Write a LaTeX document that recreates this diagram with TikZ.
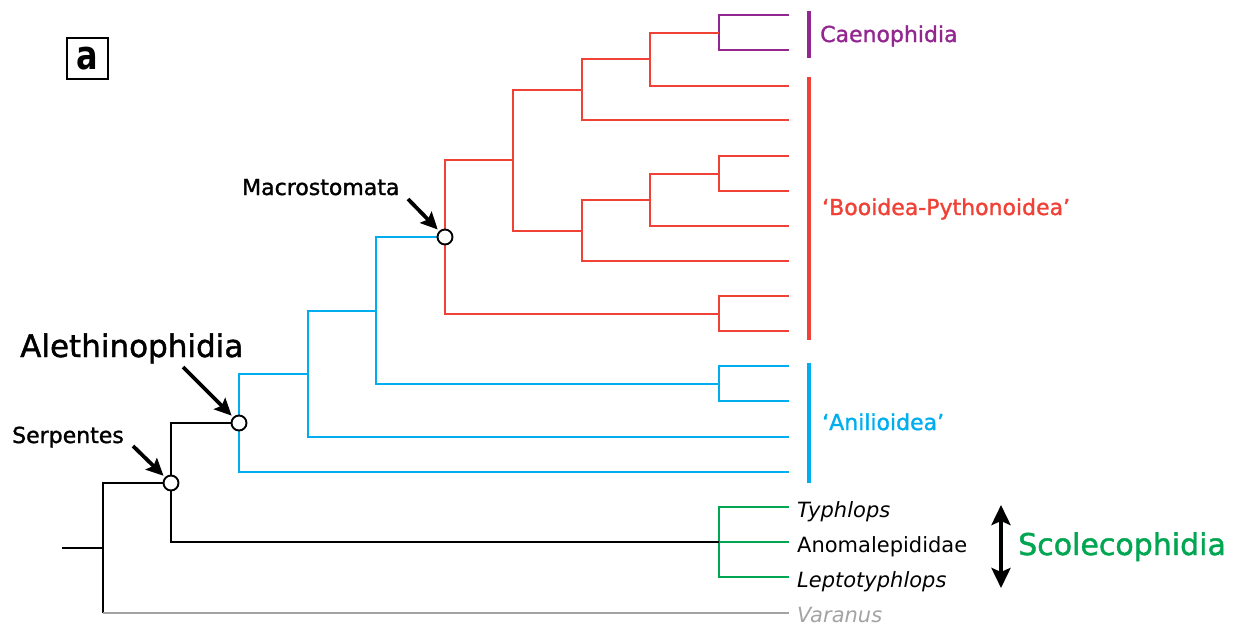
\documentclass[tikz,border=0pt]{standalone}
\usepackage{fontspec}
\setmainfont{DejaVu Sans}
\newfontfamily\semib{DejaVu Sans}[BoldFont={DejaVu Sans}, BoldFeatures={FakeBold=1.4}]
\usetikzlibrary{arrows.meta}
\definecolor{cred}{HTML}{EF4136}
\definecolor{cpurple}{HTML}{92278F}
\definecolor{cblue}{HTML}{00AEEF}
\definecolor{cgreen}{HTML}{00A651}
\definecolor{cgray}{HTML}{A3A3A6}
\begin{document}
\begin{tikzpicture}[x=1pt,y=-1pt,
  tree/.style={line width=1.9pt, line join=miter},
  bar/.style={line width=3.6pt},
  nodecirc/.style={circle, draw=black, fill=white, line width=1.9pt, minimum size=15pt, inner sep=0pt},
  pointer/.style={line width=3.8pt, -{Stealth[length=17pt,width=16pt,inset=3pt]}, shorten >=2pt},
  clade/.style={anchor=base west, inner sep=0pt, font=\semib\bfseries\fontsize{22}{26}\selectfont},
  taxon/.style={anchor=base west, inner sep=0pt, font=\fontsize{21}{25}\selectfont},
  taxonit/.style={taxon, font=\itshape\fontsize{21}{25}\selectfont}]
\useasboundingbox (0,0) rectangle (1243,635);

% tips, top to bottom
\foreach \i/\y in {0/15,1/50,2/86,3/120,4/156,5/191,6/226,7/261,8/296,9/331,
                   10/366,11/401,12/437,13/472,14/507,15/542,16/577,17/613}
  {\coordinate (t\i) at (789,\y);}

% internal nodes
\coordinate (cA)  at (719,33);
\coordinate (n2)  at (650,59);
\coordinate (n3)  at (582,90);
\coordinate (b1)  at (719,174);
\coordinate (b2)  at (650,200);
\coordinate (b3)  at (582,231);
\coordinate (n4)  at (513,160);
\coordinate (b4)  at (719,314);
\coordinate (mac) at (445,237);
\coordinate (an1) at (719,384);
\coordinate (bl1) at (376,311);
\coordinate (bl2) at (308,374);
\coordinate (ale) at (239,423);
\coordinate (sco) at (719,542);
\coordinate (ser) at (171,483);
\coordinate (root) at (103,548);
\coordinate (stub) at (62,548);

% Caenophidia crown
\draw[tree, cpurple] (cA) |- (t0) (cA) |- (t1);
% Booidea-Pythonoidea grade
\draw[tree, cred] (n2) |- (cA) (n2) |- (t2)
  (n3) |- (n2) (n3) |- (t3)
  (b1) |- (t4) (b1) |- (t5)
  (b2) |- (b1) (b2) |- (t6)
  (b3) |- (b2) (b3) |- (t7)
  (n4) |- (n3) (n4) |- (b3)
  (b4) |- (t8) (b4) |- (t9)
  (mac) |- (n4) (mac) |- (b4);
% Anilioidea grade
\draw[tree, cblue] (an1) |- (t10) (an1) |- (t11)
  (bl1) |- (mac) (bl1) |- (an1)
  (bl2) |- (bl1) (bl2) |- (t12)
  (ale) |- (bl2) (ale) |- (t13);
% Scolecophidia
\draw[tree, cgreen] (sco) |- (t14) (sco) -- (t15) (sco) |- (t16);
% basal branches
\draw[tree, black] (ser) |- (ale) (ser) |- (sco)
  (root) |- (ser) (root) -- (root |- t17) (stub) -- (root);
\draw[tree, cgray] (root |- t17) -- (t17);

% node circles
\node[nodecirc] (macC) at (mac) {};
\node[nodecirc] (aleC) at (ale) {};
\node[nodecirc] (serC) at (ser) {};

% clade bars
\coordinate (cbar1) at (809,11);  \coordinate (cbar2) at (809,58);
\coordinate (bbar1) at (809,77);  \coordinate (bbar2) at (809,340);
\coordinate (abar1) at (809,363); \coordinate (abar2) at (809,483);
\draw[bar, cpurple] (cbar1) -- (cbar2);
\draw[bar, cred] (bbar1) -- (bbar2);
\draw[bar, cblue] (abar1) -- (abar2);

% clade labels
\node[clade, text=cpurple] (lcaen) at (820,42) {Caenophidia};
\node[clade, text=cred] (lboo) at (822,215) {‘Booidea-Pythonoidea’};
\node[clade, text=cblue] (lani) at (822,430) {‘Anilioidea’};

% taxon labels
\node[taxonit] (ltyph) at (797,517) {Typhlops};
\node[taxon] (lanom) at (797,552) {Anomalepididae};
\node[taxonit] (llept) at (797,587) {Leptotyphlops};
\node[taxonit, text=cgray] (lvar) at (797,622) {Varanus};

% Scolecophidia
\coordinate (sarrT) at (1001,505);
\coordinate (sarrB) at (1001,588);
\draw[line width=4pt, {Stealth[length=20pt,width=19pt,inset=4pt]}-{Stealth[length=20pt,width=19pt,inset=4pt]}] (sarrT) -- (sarrB);
\node[anchor=base west, inner sep=0pt, text=cgreen, font=\semib\bfseries\fontsize{30}{34}\selectfont] (lsco) at (1018,555) {Scolecophidia};

% node labels with pointers
\node[anchor=base west, inner sep=0pt, font=\semib\bfseries\fontsize{31}{35}\selectfont] (lale) at (20,357) {Alethinophidia};
\node[clade] (lser) at (12,443) {Serpentes};
\node[clade] (lmac) at (242,195) {Macrostomata};
\coordinate (paleS) at (183,367);
\coordinate (pserS) at (133,446);
\coordinate (pmacS) at (408,199);
\draw[pointer] (paleS) -- (aleC);
\draw[pointer] (pserS) -- (serC);
\draw[pointer] (pmacS) -- (macC);

% panel letter
\node[draw, line width=2pt, minimum size=41pt, inner sep=0pt] (panel) at (87.5,58.5)
  {\scalebox{0.8}[1]{\bfseries\fontsize{40}{40}\selectfont a}};
\end{tikzpicture}
\end{document}
